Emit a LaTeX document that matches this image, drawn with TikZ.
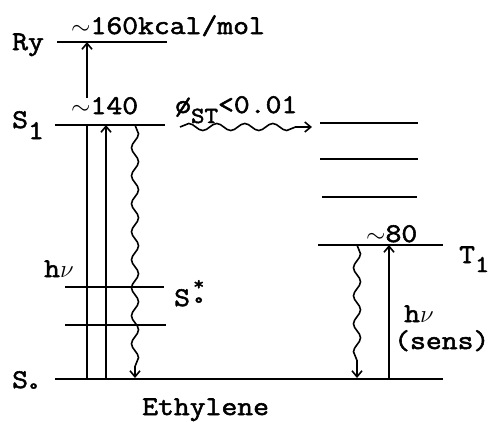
\documentclass[tikz,border=0pt]{standalone}
\usepackage{fontspec}
\newfontfamily\typew{Latin Modern Mono}[FakeBold=2,FakeStretch=1.14]
\usetikzlibrary{arrows.meta,decorations.pathmorphing}
\newcommand{\lowsub}[2][10pt]{\raisebox{-#1}{#2}}
\newcommand{\tld}{{\fontsize{26}{26}\selectfont$\sim$}}
\newcommand{\nuchar}{{\fontsize{27}{27}\selectfont$\nu$}}
\begin{document}
\begin{tikzpicture}[x=1pt,y=-1pt,
  lbl/.style={inner sep=0pt,anchor=base west,font=\typew\fontsize{27}{27}\selectfont},
  small/.style={inner sep=0pt,anchor=base west,font=\typew\fontsize{19}{19}\selectfont},
  level/.style={line width=2.4pt},
  sublevel/.style={line width=1.4pt},
  plainline/.style={line width=1.6pt},
  trans/.style={line width=1.6pt,-{Straight Barb[length=6pt,width=10pt]}},
  wavy/.style={line width=1.6pt,-{Straight Barb[length=6pt,width=10pt]},decorate,
    decoration={snake,segment length=28pt,amplitude=3.5pt,post length=6pt}}]
\useasboundingbox (0,0) rectangle (497,421);
% level end points
\coordinate (RyL) at (57,42);   \coordinate (RyR) at (167,42);
\coordinate (S1L) at (55,125);  \coordinate (S1R) at (165,125);
\coordinate (SaL) at (65,287);  \coordinate (SaR) at (164,287);
\coordinate (SbL) at (65,325);  \coordinate (SbR) at (166,325);
\coordinate (S0L) at (55,379);  \coordinate (S0R) at (443,379);
\coordinate (TaL) at (320,123); \coordinate (TaR) at (418,123);
\coordinate (TbL) at (320,159); \coordinate (TbR) at (418,159);
\coordinate (TcL) at (322,197); \coordinate (TcR) at (417,197);
\coordinate (T1L) at (318,245); \coordinate (T1R) at (443,245);
% transition end points
\coordinate (a1s) at (87,98);   \coordinate (a1e) at (87,42);
\coordinate (v1b) at (87,379);  \coordinate (v1t) at (87,125);
\coordinate (v2b) at (106,379); \coordinate (v2t) at (106,125);
\coordinate (w1t) at (135,125); \coordinate (w1b) at (135,378);
\coordinate (wh1) at (180,127); \coordinate (wh2) at (312,127);
\coordinate (w2t) at (357,245); \coordinate (w2b) at (357,378);
\coordinate (v3b) at (389,379); \coordinate (v3t) at (389,245);
% levels
\draw[level] (RyL) -- (RyR);
\draw[level] (S1L) -- (S1R);
\draw[sublevel] (SaL) -- (SaR);
\draw[sublevel] (SbL) -- (SbR);
\draw[level] (S0L) -- (S0R);
\draw[sublevel] (TaL) -- (TaR);
\draw[sublevel] (TbL) -- (TbR);
\draw[sublevel] (TcL) -- (TcR);
\draw[level] (T1L) -- (T1R);
% transitions
\draw[trans] (a1s) -- (a1e);
\draw[plainline] (v1b) -- (v1t);
\draw[trans] (v2b) -- (v2t);
\draw[wavy] (w1t) -- (w1b);
\draw[wavy] (wh1) -- (wh2);
\draw[wavy] (w2t) -- (w2b);
\draw[trans] (v3b) -- (v3t);
% labels
\node[lbl] (ry) at (12,50) {Ry};
\node[lbl] (e160) at (71,34) {\tld160kcal/mol};
\node[lbl] (e140) at (71,114) {\tld140};
\node[lbl] (s1) at (12,128) {S\lowsub[11pt]{1}};
\node[lbl] (phi) at (175,113) {ø\lowsub[10pt]{\fontsize{23}{23}\selectfont ST}<0.01};
\node[lbl] (hv1) at (44,277) {h\nuchar};
\node[lbl] (sst) at (174,306) {S};
\node[small] (sstsup) at (193,290) {*};
\node[small] (sstsub) at (193,309) {°};
\node[lbl] (s0) at (12,388) {S\lowsub[7pt]{\fontsize{19}{19}\selectfont °}};
\node[lbl] (e80) at (366,242) {\tld80};
\node[lbl] (t1) at (459,263) {T\lowsub[9pt]{\fontsize{24}{24}\selectfont 1}};
\node[lbl] (hv2) at (404,322) {h\nuchar};
\node[lbl] (sens) at (394,349) {(sens)};
\node[lbl] (eth) at (142,415) {Ethylene};
\end{tikzpicture}
\end{document}
